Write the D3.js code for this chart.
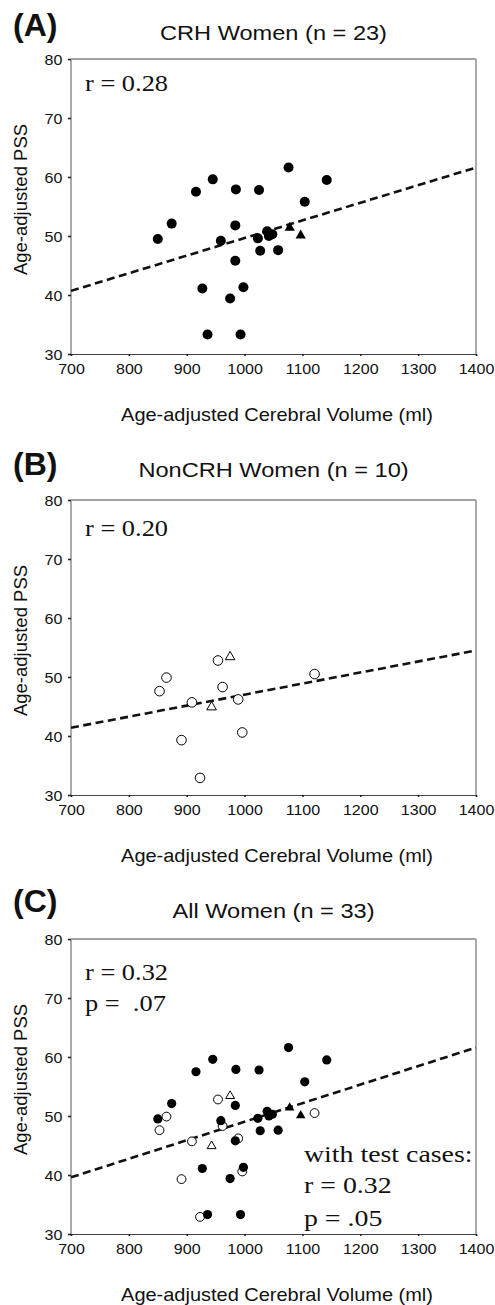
<!DOCTYPE html>
<html>
<head>
<meta charset="utf-8">
<script src="https://cdn.jsdelivr.net/npm/d3@7"></script>
<style>
    body { margin: 0; background: #fff; }
    svg { display: block; }
</style>
</head>
<body>
<div id="figure"></div>
<script>
'use strict';

// ---- data ----
const xTicks = [700, 800, 900, 1000, 1100, 1200, 1300, 1400];
const yTicks = [30, 40, 50, 60, 70, 80];

// CRH women (filled circles)
const crhVolume = [850, 874, 916, 945, 985, 1025, 1076, 1142, 1104, 984, 959, 1023,
                   1039, 1042, 1048, 1027, 1058, 984, 927, 998, 975, 936, 993];
const crhPSS    = [49.5, 52.1, 57.5, 59.6, 57.9, 57.8, 61.6, 59.5, 55.8, 51.8, 49.2, 49.6,
                   50.8, 50.0, 50.3, 47.5, 47.6, 45.8, 41.1, 41.3, 39.4, 33.3, 33.3];
// CRH test cases (filled triangles)
const crhTestVolume = [1078, 1097];
const crhTestPSS    = [51.4, 50.1];

// NonCRH women (open circles)
const nonCrhVolume = [853, 865, 909, 891, 923, 954, 962, 989, 996, 1121];
const nonCrhPSS    = [47.6, 49.9, 45.7, 39.3, 32.9, 52.8, 48.3, 46.2, 40.6, 50.5];
// NonCRH test cases (open triangles)
const nonCrhTestVolume = [975, 943];
const nonCrhTestPSS    = [53.4, 44.9];

// fitted lines, PSS at 700 and 1400 ml
const fitX      = [700, 1400];
const fitCrh    = [40.7, 61.6];
const fitNonCrh = [41.4, 54.5];
const fitAll    = [39.6, 61.6];

const panelLetters = ['(A)', '(B)', '(C)'];
const panelTitles  = ['CRH Women (n = 23)', 'NonCRH Women (n = 10)', 'All Women (n = 33)'];
const statsTopLeft = [['r = 0.28'], ['r = 0.20'], ['r = 0.32', 'p =  .07']];
const statsTest    = [[], [], ['with test cases:', 'r = 0.32', 'p = .05']];

const xLabel = 'Age-adjusted Cerebral Volume (ml)';
const yLabel = 'Age-adjusted PSS';

// ---- layout ----
const W = 495, H = 1305;
const plotLeft = 71, plotRight = 476, plotH = 295;
const panelTop = [59, 500, 939];
const titleY   = [39.5, 476.7, 918.3];
const letterY  = [35.5, 475, 911.7];
const statsY   = [[90.7], [536], [980, 1010.7]];
const testY    = [[], [], [1161.7, 1193.3, 1225.7]];

const SANS = "'Liberation Sans', Arial, sans-serif";
const SERIF = "'Liberation Serif', 'Times New Roman', serif";

function zip (xs, ys)
{
    return xs.map((x, i) => ({x: x, y: ys[i]}));
}

function stretchText (g, x, y, str, size, sx, family, anchor)
{
    return g.append('text')
        .attr('transform', 'translate(' + x + ',' + y + ') scale(' + sx + ',1)')
        .attr('font-family', family)
        .attr('font-size', size)
        .attr('text-anchor', anchor || 'start')
        .style('white-space', 'pre')
        .attr('fill', '#111')
        .text(str);
}

class ScatterPanel {

    constructor (svg, index)
    {
        this.svg = svg;
        this.index = index;
        this.top = panelTop[index];
        this.layers = [];
        this.markerScale = 1;
    }

    setLayers (layers)
    {
        this.layers = layers;
        return this;
    }

    setFit (fit)
    {
        this.fit = fit;
        return this;
    }

    setMarkerScale (val)
    {
        this.markerScale = val;
        return this;
    }

    build ()
    {
        let top = this.top, bottom = top + plotH;
        this.xScale = d3.scaleLinear().domain([700, 1400]).range([plotLeft, plotRight]);
        this.yScale = d3.scaleLinear().domain([30, 80]).range([bottom, top]);

        let g = this.svg.append('g').attr('class', 'panel');

        // frame: top/bottom dark, sides grey
        g.append('line').attr('x1', plotLeft).attr('x2', plotRight).attr('y1', top).attr('y2', top)
            .attr('stroke', '#444').attr('stroke-width', 1);
        g.append('line').attr('x1', plotLeft).attr('x2', plotLeft).attr('y1', top).attr('y2', bottom)
            .attr('stroke', '#aaa').attr('stroke-width', 2);
        g.append('line').attr('x1', plotRight).attr('x2', plotRight).attr('y1', top).attr('y2', bottom)
            .attr('stroke', '#aaa').attr('stroke-width', 2);

        let xAxis = d3.axisBottom(this.xScale).tickValues(xTicks).tickSize(2).tickPadding(7)
            .tickFormat(d3.format('d'));
        let yAxis = d3.axisLeft(this.yScale).tickValues(yTicks).tickSize(3).tickPadding(5);

        let xg = g.append('g').attr('transform', 'translate(0,' + bottom + ')').call(xAxis);
        let yg = g.append('g').attr('transform', 'translate(' + plotLeft + ',0)').call(yAxis);
        yg.select('.domain').remove();
        xg.select('.domain').attr('stroke', '#444').attr('stroke-width', 1.2);
        [xg, yg].forEach(a => {
            a.selectAll('.tick line').attr('stroke', '#222').attr('stroke-width', 1.6);
            a.selectAll('.tick text')
                .attr('font-family', SANS)
                .attr('font-size', 15)
                .attr('fill', '#111')
                .attr('transform', 'scale(1.07,1)');
        });
        yg.selectAll('.tick text').attr('dy', '0.36em');

        // fitted line
        let line = d3.line().x(d => this.xScale(d.x)).y(d => this.yScale(d.y));
        g.append('path')
            .datum(zip(fitX, this.fit))
            .attr('d', line)
            .attr('fill', 'none')
            .attr('stroke', '#111')
            .attr('stroke-width', 2.6)
            .attr('stroke-dasharray', '8,4.5');

        // markers
        let k = this.markerScale;
        this.layers.forEach(layer => {
            let pts = zip(layer.x, layer.y);
            let sel = g.append('g').selectAll('path').data(pts).enter();
            if (layer.shape === 'circle') {
                sel.append('circle')
                    .attr('cx', d => this.xScale(d.x))
                    .attr('cy', d => this.yScale(d.y))
                    .attr('r', (layer.open ? 4.8 : 5) * k)
                    .attr('fill', layer.open ? '#fff' : '#000')
                    .attr('stroke', '#000')
                    .attr('stroke-width', layer.open ? 1 : 0);
            } else {
                let sym = d3.symbol().type(d3.symbolTriangle).size((layer.open ? 40 : 46) * k * k);
                sel.append('path')
                    .attr('d', sym)
                    .attr('transform', d => 'translate(' + this.xScale(d.x) + ',' + this.yScale(d.y) + ')')
                    .attr('fill', layer.open ? '#fff' : '#000')
                    .attr('stroke', '#000')
                    .attr('stroke-width', layer.open ? 1 : 0);
            }
        });

        // titles and labels
        let i = this.index;
        g.append('text')
            .attr('x', 13).attr('y', letterY[i])
            .attr('font-family', SANS).attr('font-size', 32).attr('font-weight', 'bold')
            .attr('fill', '#111')
            .text(panelLetters[i]);
        stretchText(g, (plotLeft + plotRight) / 2, titleY[i], panelTitles[i], 20, 1.18, SANS, 'middle');
        stretchText(g, 277, bottom + 67, xLabel, 18, 1.11, SANS, 'middle');
        g.append('text')
            .attr('transform', 'translate(27,' + ((top + bottom) / 2 - 7) + ') rotate(-90)')
            .attr('font-family', SANS).attr('font-size', 18.5).attr('text-anchor', 'middle')
            .attr('fill', '#111')
            .text(yLabel);

        statsTopLeft[i].forEach((s, j) => stretchText(g, 85, statsY[i][j], s, 24, 1.1, SERIF));
        statsTest[i].forEach((s, j) => stretchText(g, 304, testY[i][j], s, 24, 1.16, SERIF));
        return this;
    }
}

let svg = d3.select('#figure').append('svg')
    .attr('width', W)
    .attr('height', H);
svg.append('rect').attr('width', W).attr('height', H).attr('fill', '#fff');

new ScatterPanel(svg, 0)
    .setFit(fitCrh)
    .setLayers([
        {x: crhVolume, y: crhPSS, shape: 'circle', open: false},
        {x: crhTestVolume, y: crhTestPSS, shape: 'triangle', open: false}
    ])
    .build();

new ScatterPanel(svg, 1)
    .setFit(fitNonCrh)
    .setLayers([
        {x: nonCrhVolume, y: nonCrhPSS, shape: 'circle', open: true},
        {x: nonCrhTestVolume, y: nonCrhTestPSS, shape: 'triangle', open: true}
    ])
    .build();

new ScatterPanel(svg, 2)
    .setFit(fitAll)
    .setMarkerScale(0.92)
    .setLayers([
        {x: nonCrhVolume, y: nonCrhPSS, shape: 'circle', open: true},
        {x: nonCrhTestVolume, y: nonCrhTestPSS, shape: 'triangle', open: true},
        {x: crhVolume, y: crhPSS, shape: 'circle', open: false},
        {x: crhTestVolume, y: crhTestPSS, shape: 'triangle', open: false}
    ])
    .build();
</script>
</body>
</html>
